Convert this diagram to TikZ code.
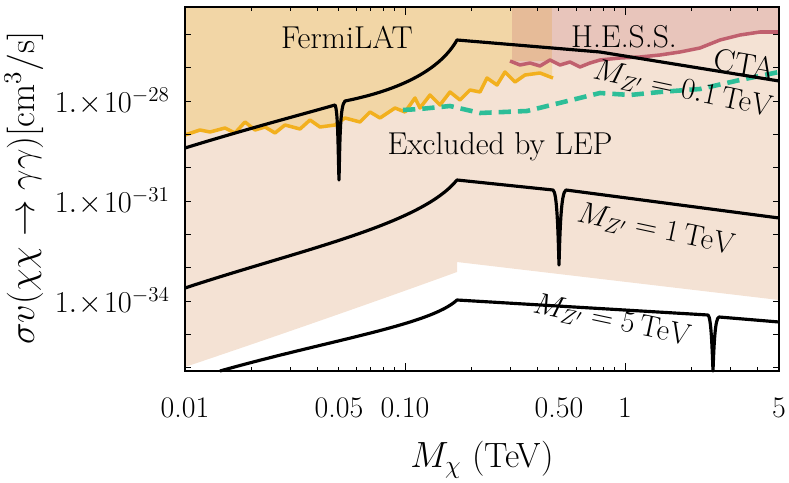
\documentclass[tikz,border=0pt]{standalone}
\begin{document}
\begin{tikzpicture}[x=0.02cm,y=-0.02cm,
 curve/.style={black,line width=1.8pt,line join=round},
 lbl/.style={font=\fontsize{18}{20}\selectfont,inner sep=1pt},
 tick/.style={font=\fontsize{17}{19}\selectfont}]
\useasboundingbox (0,0) rectangle (789,483);
\definecolor{lep}{HTML}{F4E2D4}
\definecolor{fermi}{HTML}{F2D6A6}
\definecolor{hess}{HTML}{E8C5BB}
\definecolor{both}{HTML}{E6BB98}
\definecolor{orng}{HTML}{F2B01E}
\definecolor{teal}{HTML}{2DBE98}
\definecolor{redc}{HTML}{C0606E}
% LEP
\fill[lep] (185,7) -- (779,7) -- (779,300) -- (457,262) -- (457,272) .. controls (380,300) and (280,335) .. (185,367) -- cycle;
% Fermi
\fill[fermi] (185,7) -- (552,7) -- (552,75) -- (540,73) -- (525,75) -- (515,82) -- (505,72) -- (497,85) -- (487,78) -- (480,92) -- (470,90) -- (460,100) -- (450,92) -- (440,105) -- (430,95) -- (420,108) -- (415,98) -- (405,112) -- (395,108) -- (380,118) -- (370,112) -- (360,122) -- (345,118) -- (335,125) -- (320,127) -- (310,120) -- (300,129) -- (285,125) -- (275,133) -- (265,127) -- (255,130) -- (245,122) -- (235,133) -- (225,128) -- (210,132) -- (200,130) -- (185,135) -- cycle;
% HESS
\fill[hess] (512,7) -- (779,7) -- (779,32) -- (760,32) -- (740,35) -- (720,40) -- (700,48) -- (680,52) -- (660,55) -- (640,57) -- (620,58) -- (600,60) -- (590,63) -- (580,67) -- (570,62) -- (560,65) -- (552,60) -- (540,66) -- (530,63) -- (520,65) -- (512,61) -- cycle;
\fill[both] (512,7) rectangle (552,61);
% curves
\draw[orng,line width=2pt,line join=round] (185,135) -- (200,130) -- (210,132) -- (225,128) -- (235,133) -- (245,122) -- (255,130) -- (265,127) -- (275,133) -- (285,125) -- (300,129) -- (310,120) -- (320,127) -- (335,125) -- (345,118) -- (360,122) -- (370,112) -- (380,118) -- (395,108) -- (405,112) -- (415,98) -- (420,108) -- (430,95) -- (440,105) -- (450,92) -- (460,100) -- (470,90) -- (480,92) -- (487,78) -- (497,85) -- (505,72) -- (515,82) -- (525,75) -- (540,73) -- (553,78);
\draw[redc,line width=2pt,line join=round] (510,61) -- (520,65) -- (530,63) -- (540,66) -- (550,60) -- (560,65) -- (570,62) -- (580,67) -- (590,63) -- (600,60) -- (620,58) -- (640,57) -- (660,55) -- (680,52) -- (700,48) -- (720,40) -- (740,35) -- (760,32) -- (779,32);
\draw[teal,line width=2.6pt,dash pattern=on 7pt off 4pt] (403,110) -- (420,109) -- (450,106) -- (480,113) -- (527,111) -- (600,93) -- (630,95) -- (660,92) -- (700,89) -- (740,80) -- (779,72);
% M=0.1
\draw[curve] (185,148) .. controls (250,128) and (300,115) .. (335,105) .. controls (338,110) and (338,150) .. (339,180) .. controls (340,140) and (340,105) .. (345,101) .. controls (400,90) and (440,70) .. (457,40) -- (600,52) -- (779,81);
% M=1
\draw[curve] (185,288) .. controls (300,250) and (420,225) .. (457,180) -- (553,190) .. controls (557,192) and (558,230) .. (559,265) .. controls (560,230) and (561,192) .. (566,190) -- (779,218);
% M=5
\draw[curve] (220,371) .. controls (330,340) and (430,325) .. (457,300) -- (708,315) .. controls (711,317) and (712,345) .. (713,371) .. controls (714,345) and (715,318) .. (719,317) -- (779,322);
% frame
\draw[black,line width=1pt] (185,7) rectangle (779,371);
% ticks
\foreach \d in {0,1,2}{\foreach \m in {1,...,9}{
 \pgfmathsetmacro\xx{185+220*(\d+log10(\m))}
 \ifdim\xx pt<780pt
 \pgfmathsetmacro\len{\m==1?8:4}
 \draw[line width=0.5pt] (\xx,371) -- ++(0,-\len); \draw[line width=0.5pt] (\xx,7) -- ++(0,\len);
 \fi}}
\foreach \k in {0,...,10}{\pgfmathsetmacro\yy{101+33.33*(\k-2)}
 \ifdim\yy pt>8pt \ifdim\yy pt<370pt
 \draw[line width=0.5pt] (185,\yy) -- ++(6,0); \draw[line width=0.5pt] (779,\yy) -- ++(-6,0);
 \fi\fi}
% tick labels
\foreach \v/\x in {0.01/185,0.05/339,0.10/405,0.50/559,1/625,5/779} \node[tick] (xt\x) at (\x,408) {\v};
\node[tick,anchor=east] (y1) at (176,101) {$1.\!\times\!10^{-28}$};
\node[tick,anchor=east] (y2) at (176,201) {$1.\!\times\!10^{-31}$};
\node[tick,anchor=east] (y3) at (176,301) {$1.\!\times\!10^{-34}$};
\node[font=\fontsize{20}{22}\selectfont] (xl) at (482,460) {$M_\chi$ (TeV)};
\node[font=\fontsize{20}{22}\selectfont,rotate=90,inner sep=1pt] (yl) at (24,188) {$\sigma v(\chi\chi\to\gamma\gamma)[\mathrm{cm}^3/\mathrm{s}]$};
% labels
\node[lbl] (fl) at (347,37) {FermiLAT};
\node[lbl] (hs) at (624,37) {H.E.S.S.};
\node[lbl,rotate=-10] (cta) at (745,64) {CTA};
\node[lbl] (lep) at (500,147) {Excluded by LEP};
\node[lbl,rotate=-12] (m01) at (683,90) {$M_{Z'}=0.1\,\mathrm{TeV}$};
\node[lbl,rotate=-12] (m1) at (656,230) {$M_{Z'}=1\,\mathrm{TeV}$};
\node[lbl,rotate=-12] (m5) at (612,321) {$M_{Z'}=5\,\mathrm{TeV}$};
\end{tikzpicture}
\end{document}
